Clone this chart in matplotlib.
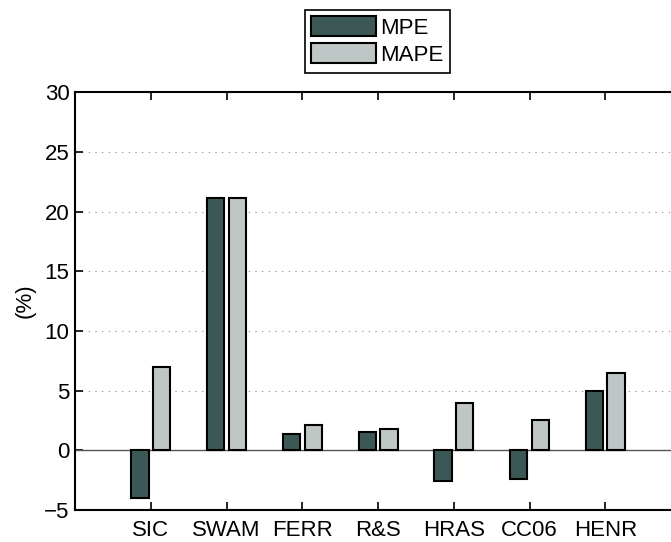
import numpy as np
import matplotlib.pyplot as plt

plt.rcParams['font.family'] = ['Liberation Sans', 'DejaVu Sans']

methods = ['SIC', 'SWAM', 'FERR', 'R&S', 'HRAS', 'CC06', 'HENR']
mpe = [-4.0, 21.1, 1.4, 1.5, -2.6, -2.4, 5.0]
mape = [7.0, 21.1, 2.1, 1.8, 4.0, 2.5, 6.45]

fig = plt.figure(figsize=(6.71, 5.42), dpi=100)
ax = fig.add_axes([0.112, 0.059, 0.903, 0.771])

x = np.arange(1, len(methods) + 1)
w = 0.229
off = 0.143
ax.bar(x - off, mpe, w, color='#3b5857', edgecolor='black', linewidth=1.5, label='MPE', zorder=3)
ax.bar(x + off, mape, w, color='#bec6c6', edgecolor='black', linewidth=1.5, label='MAPE', zorder=3)

ax.axhline(0, color='#555555', linewidth=1, zorder=2)
for yv in [5, 10, 15, 20, 25]:
    ax.axhline(yv, color='#888888', linewidth=0.8, linestyle=(0, (1, 5)), zorder=1)

ax.set_xlim(0, 8)
ax.set_ylim(-5, 30)
ax.set_xticks(x)
ax.set_xticklabels(methods)
ax.set_yticks(range(-5, 31, 5))
ax.set_yticklabels([str(v).replace('-', '\u2212') for v in range(-5, 31, 5)])
ax.tick_params(direction='in', length=6, width=1.2, labelsize=16, top=True, right=False, pad=7)
ax.tick_params(axis='y', pad=4)
for s in ax.spines.values():
    s.set_linewidth(1.5)
ax.spines['right'].set_visible(False)
ax.set_ylabel('(%)', fontsize=16, labelpad=6)

leg = ax.legend(loc='upper center', bbox_to_anchor=(0.5625, 0.982), bbox_transform=fig.transFigure,
                fontsize=16, handlelength=2.9, handleheight=1.0, handletextpad=0.2,
                labelspacing=0.2, borderpad=0.3, fancybox=False, framealpha=1,
                edgecolor='black', borderaxespad=0)
leg.get_frame().set_linewidth(1.2)

fig.savefig('out.png', dpi=100)
